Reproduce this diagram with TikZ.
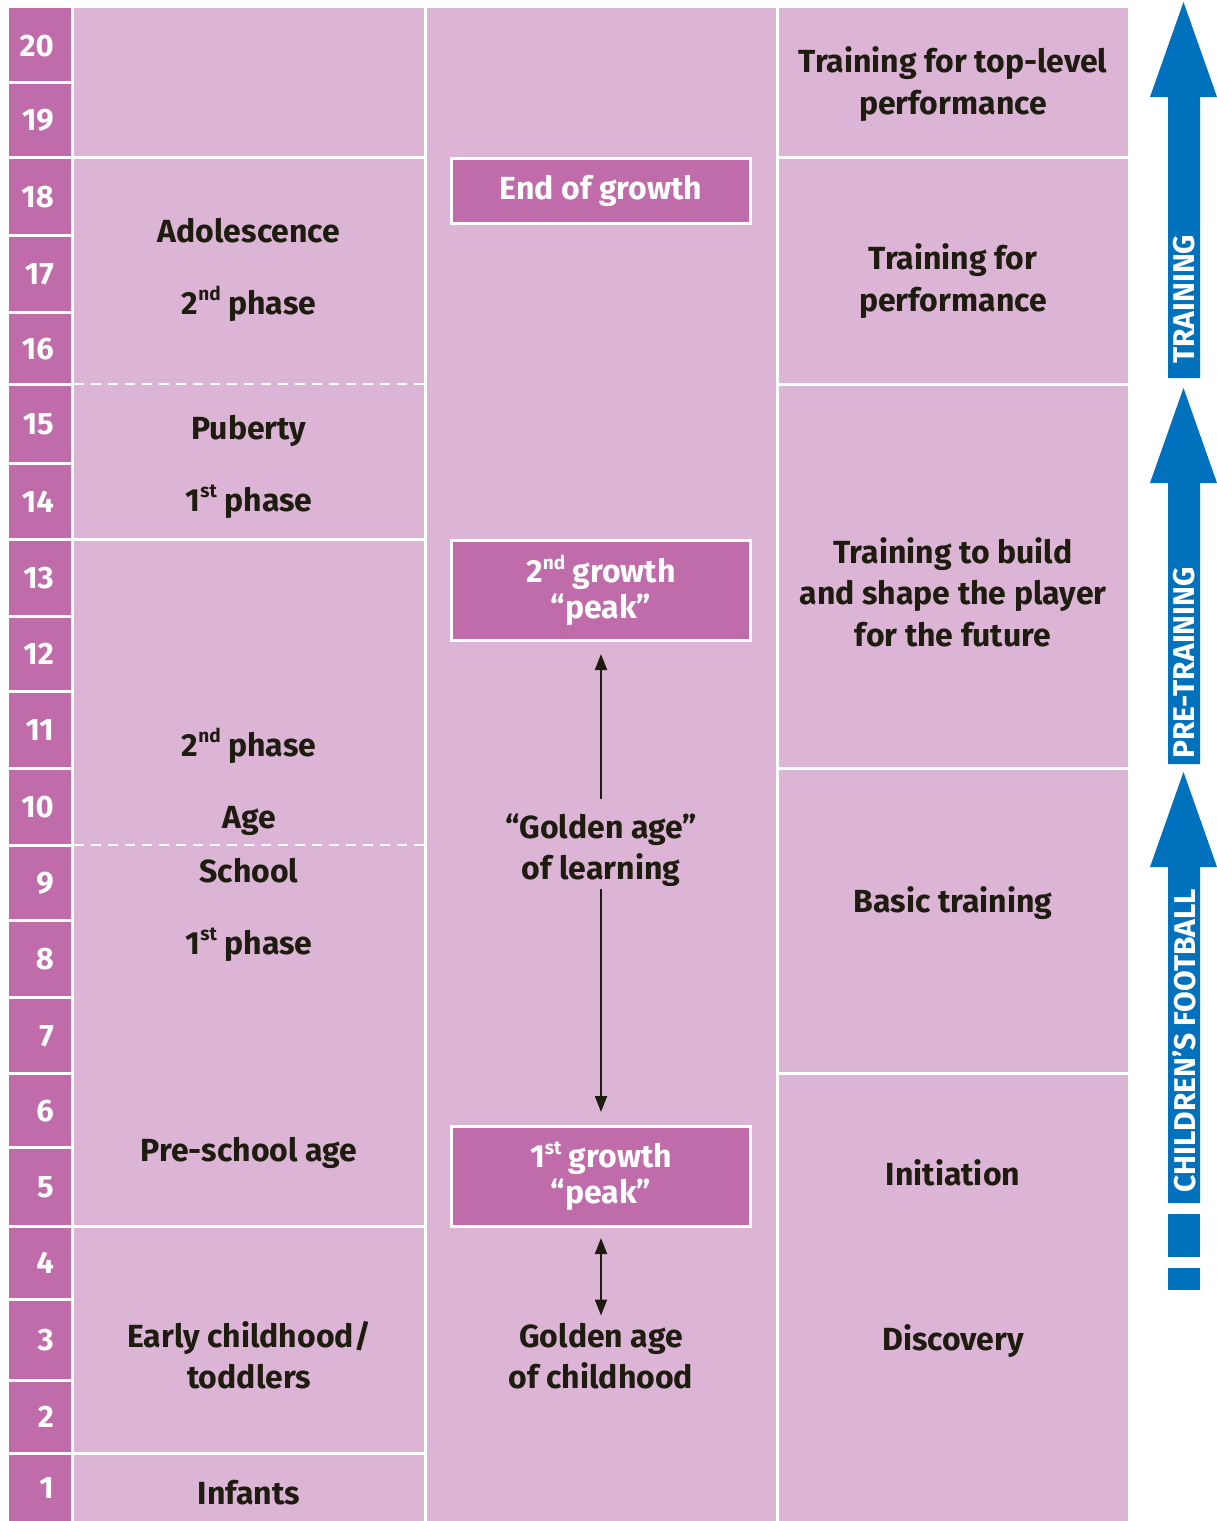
\documentclass[tikz,border=0pt]{standalone}
\usepackage{fontspec}
\setmainfont{Fira Sans}
\usetikzlibrary{arrows.meta}
\definecolor{cellpink}{HTML}{DBB4D6}
\definecolor{agepink}{HTML}{C06CAB}
\definecolor{bandblue}{HTML}{0071BC}
\definecolor{ink}{HTML}{1D1C0E}
\newcommand{\ordsup}[1]{\raisebox{0.42em}{\fontsize{19}{19}\selectfont #1}}

\begin{document}
\begin{tikzpicture}[x=1pt,y=-1pt,
  txt/.style={font=\fontsize{32}{40}\selectfont\bfseries, text=ink, inner sep=0pt, anchor=base},
  agenum/.style={font=\fontsize{31}{31}\selectfont\bfseries, text=white, inner sep=0pt, anchor=base east},
  growth/.style={fill=agepink, draw=white, line width=2.6pt, minimum width=299pt,
    text=white, align=center, font=\fontsize{32}{37}\selectfont\bfseries, inner sep=0pt},
  sep/.style={draw=white, line width=3pt},
  dsep/.style={draw=white, line width=2.4pt, dash pattern=on 10pt off 7pt},
  link/.style={draw=ink, line width=2pt, -{Triangle[length=16pt,width=12pt]}},
  bandtxt/.style={font=\fontsize{30}{30}\selectfont\bfseries, text=white, rotate=90, anchor=west, inner sep=0pt},
]
\useasboundingbox (0,0) rectangle (1217,1521);
\fill[white] (0,0) rectangle (1217,1521);

% ---- age scale ----
\fill[agepink] (9,8) rectangle (71,1521);
\foreach \y in {82,157,235,312,384,463,539,616,691,768,845,920,997,1073,1147,1226,1299,1380,1453}
  \draw[sep] (9,\y) -- (71,\y);
\foreach \n/\t/\b in {20/8/82,19/82/157,18/157/235,17/235/312,16/312/384,15/384/463,
  14/463/539,13/539/616,12/616/691,11/691/768,10/768/845,9/845/920,8/920/997,7/997/1073,
  6/1073/1147,5/1147/1226,4/1226/1299,3/1299/1380,2/1380/1453,1/1453/1521}
  \node[agenum] (age\n) at (54,{(\t+\b)/2+11}) {\n};

% ---- development stages ----
\fill[cellpink] (74,8) rectangle (424,1521);
\foreach \y in {157,539,1226,1453}
  \draw[sep] (74,\y) -- (424,\y);
\foreach \y in {384,845}
  \draw[dsep] (74,\y) -- (424,\y);

\node[txt] (adol) at (249,242) {Adolescence};
\node[txt] (adolph) at (249,314) {2\ordsup{nd} phase};
\node[txt] (pub) at (249,439) {Puberty};
\node[txt] (pubph) at (249,511) {1\ordsup{st} phase};
\node[txt] (schph2) at (249,756) {2\ordsup{nd} phase};
\node[txt] (schage) at (249,828) {Age};
\node[txt] (school) at (249,882) {School};
\node[txt] (schph1) at (249,954) {1\ordsup{st} phase};
\node[txt] (presch) at (249,1161) {Pre-school age};
\node[txt] (early) at (249,1347) {Early childhood/};
\node[txt] (toddl) at (249,1388) {toddlers};
\node[txt] (inf) at (249,1504) {Infants};

% ---- growth ----
\fill[cellpink] (427,8) rectangle (776,1521);
\node[growth, minimum height=65.4pt] (endgr) at (601,191) {End of growth};
\node[growth, minimum height=100.4pt] (peak2) at (601,590.5) {2\ordsup{nd} growth\\[-1pt]“peak”};
\node[growth, minimum height=100.4pt] (peak1) at (601,1176.5) {1\ordsup{st} growth\\[-1pt]“peak”};

\node[txt] (gold1) at (601,838) {“Golden age”};
\node[txt] (gold2) at (601,879) {of learning};
\node[txt] (child1) at (601,1347) {Golden age};
\node[txt] (child2) at (601,1388) {of childhood};

\draw[link, shorten <=14pt, shorten >=12pt] (gold1.north) -- (peak2.south);
\draw[link, shorten <=3pt, shorten >=13pt] (gold2.south) -- (peak1.north);
\draw[link, {Triangle[length=16pt,width=12pt]}-{Triangle[length=16pt,width=12pt]},
  shorten <=10pt, shorten >=7pt] (peak1.south) -- (child1.north);

% ---- training stages ----
\fill[cellpink] (779,8) rectangle (1128,1521);
\foreach \y in {157,384,768,1073}
  \draw[sep] (779,\y) -- (1128,\y);

\node[txt] (top1) at (953,72) {Training for top-level};
\node[txt] (top2) at (953,114) {performance};
\node[txt] (perf1) at (953,269) {Training for};
\node[txt] (perf2) at (953,311) {performance};
\node[txt] (build1) at (953,563) {Training to build};
\node[txt] (build2) at (953,604) {and shape the player};
\node[txt] (build3) at (953,646) {for the future};
\node[txt] (basic) at (953,912) {Basic training};
\node[txt] (init) at (953,1185) {Initiation};
\node[txt] (disc) at (953,1350) {Discovery};

% ---- programme bands ----
\fill[bandblue] (1183.5,2) -- (1217,97) -- (1200,97) -- (1200,378) -- (1168,378) -- (1168,97) -- (1150,97) -- cycle;
\fill[bandblue] (1183.5,388) -- (1217,483) -- (1200,483) -- (1200,764) -- (1168,764) -- (1168,483) -- (1150,483) -- cycle;
\fill[bandblue] (1183.5,772) -- (1217,867) -- (1200,867) -- (1200,1203) -- (1168,1203) -- (1168,867) -- (1150,867) -- cycle;
\fill[bandblue] (1168,1214) rectangle (1200,1257);
\fill[bandblue] (1168,1268) rectangle (1200,1290);

\node[bandtxt] (training) at (1184,364) {TRAINING};
\node[bandtxt] (pretraining) at (1184,759) {PRE-TRAINING};
\node[bandtxt] (kids) at (1184,1193) {CHILDREN’S FOOTBALL};
\end{tikzpicture}
\end{document}
